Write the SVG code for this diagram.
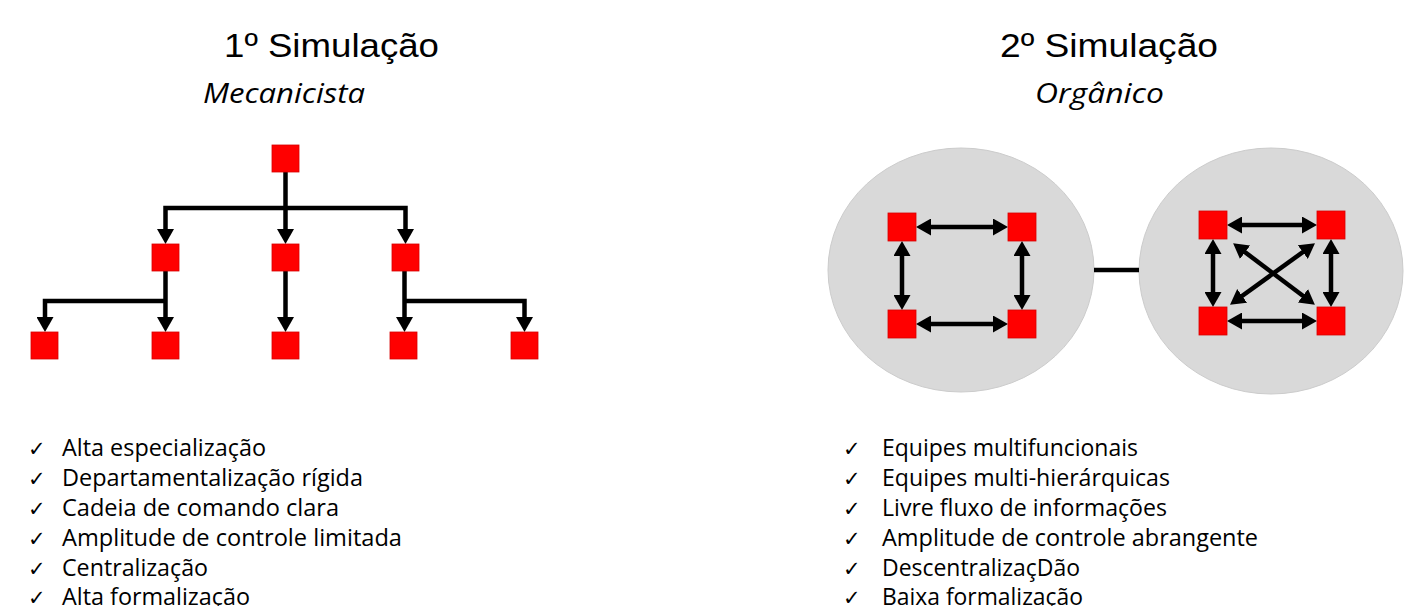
<svg xmlns="http://www.w3.org/2000/svg" width="1414" height="606" viewBox="0 0 1414 606">
  <style>
    .title { font-family: "Liberation Sans", Arial, sans-serif; font-size: 33px; fill: #000; }
    .sub { font-family: "Open Sans", "Noto Sans", sans-serif; font-style: italic; font-size: 27px; fill: #000; }
    .item { font-family: "Open Sans", "Noto Sans", sans-serif; font-size: 23px; fill: #000; }
    .tick { font-family: "DejaVu Sans", sans-serif; font-size: 21px; fill: #000; }
    .box { fill: #FF0000; stroke: #D80000; stroke-width: 0.8; }
    .link { fill: none; stroke: #000; stroke-width: 4.5; stroke-linejoin: miter; }
    .arrow { marker-end: url(#head); }
    .both { marker-start: url(#head); marker-end: url(#head); }
    .cell { fill: #D9D9D9; stroke: #CCCCCC; stroke-width: 1; }
  </style>
  <defs>
    <marker id="head" markerUnits="userSpaceOnUse" viewBox="0 0 15 17" markerWidth="15" markerHeight="17" refX="7" refY="8.5" orient="auto-start-reverse">
      <path d="M0,0 L15,8.5 L0,17 z" fill="#000"/>
    </marker>
  </defs>

  <rect width="1414" height="606" fill="#FFFFFF"/>

  <!-- headings -->
  <g id="heading-left">
    <text class="title" x="224" y="57" textLength="215" lengthAdjust="spacingAndGlyphs">1º Simulação</text>
    <text class="sub" x="203" y="103" textLength="162" lengthAdjust="spacingAndGlyphs">Mecanicista</text>
  </g>
  <g id="heading-right">
    <text class="title" x="1000" y="57" textLength="218" lengthAdjust="spacingAndGlyphs">2º Simulação</text>
    <text class="sub" x="1035" y="103" textLength="129" lengthAdjust="spacingAndGlyphs">Orgânico</text>
  </g>

  <!-- backgrounds for the two organic teams -->
  <g id="team-a">
    <ellipse class="cell" cx="961" cy="270" rx="133" ry="122"/>
  </g>
  <g id="team-b">
    <ellipse class="cell" cx="1271" cy="271" rx="132" ry="123"/>
  </g>

  <!-- connectors -->
  <g id="connectors">
    <!-- mechanistic tree -->
    <path class="link arrow" d="M285.5,172 V236"/>
    <path class="link arrow" d="M285.5,208 H165.5 V236"/>
    <path class="link arrow" d="M285.5,208 H405.5 V236"/>
    <path class="link arrow" d="M165.5,271 V324"/>
    <path class="link arrow" d="M165.5,301 H45 V324"/>
    <path class="link arrow" d="M285.5,271 V324"/>
    <path class="link arrow" d="M404.5,271 V324"/>
    <path class="link arrow" d="M404.5,301 H524.5 V324"/>

    <!-- organic team A -->
    <path class="link both" d="M924,227 H1000"/>
    <path class="link both" d="M924,324 H1000"/>
    <path class="link both" d="M902,249 V302"/>
    <path class="link both" d="M1022,249 V302"/>

    <!-- link between teams -->
    <path class="link" d="M1094,270 H1139" stroke-width="5"/>

    <!-- organic team B -->
    <path class="link both" d="M1235,225 H1309"/>
    <path class="link both" d="M1235,321 H1309"/>
    <path class="link both" d="M1213,247 V299"/>
    <path class="link both" d="M1331,247 V299"/>
    <path class="link both" d="M1239.5,248 L1308.5,300"/>
    <path class="link both" d="M1308.5,248 L1236.5,300"/>
  </g>

  <!-- mechanistic nodes -->
  <g id="m-top"><rect class="box" x="272" y="145" width="27" height="27"/></g>
  <g id="m-mid-1"><rect class="box" x="152" y="244" width="27" height="27"/></g>
  <g id="m-mid-2"><rect class="box" x="272" y="244" width="27" height="27"/></g>
  <g id="m-mid-3"><rect class="box" x="392" y="244" width="27" height="27"/></g>
  <g id="m-low-1"><rect class="box" x="31" y="332" width="27" height="27"/></g>
  <g id="m-low-2"><rect class="box" x="152" y="332" width="27" height="27"/></g>
  <g id="m-low-3"><rect class="box" x="272" y="332" width="27" height="27"/></g>
  <g id="m-low-4"><rect class="box" x="390" y="332" width="27" height="27"/></g>
  <g id="m-low-5"><rect class="box" x="511" y="332" width="27" height="27"/></g>

  <!-- organic nodes -->
  <g id="a-tl"><rect class="box" x="888" y="213" width="28" height="28"/></g>
  <g id="a-tr"><rect class="box" x="1008" y="213" width="28" height="28"/></g>
  <g id="a-bl"><rect class="box" x="888" y="310" width="28" height="28"/></g>
  <g id="a-br"><rect class="box" x="1008" y="310" width="28" height="28"/></g>
  <g id="b-tl"><rect class="box" x="1199" y="211" width="28" height="28"/></g>
  <g id="b-tr"><rect class="box" x="1317" y="211" width="28" height="28"/></g>
  <g id="b-bl"><rect class="box" x="1199" y="307" width="28" height="28"/></g>
  <g id="b-br"><rect class="box" x="1317" y="307" width="28" height="28"/></g>

  <!-- feature lists -->
  <g id="list-left">
    <text class="tick" x="28" y="456">✓</text>
    <text class="tick" x="28" y="486">✓</text>
    <text class="tick" x="28" y="516">✓</text>
    <text class="tick" x="28" y="546">✓</text>
    <text class="tick" x="28" y="576">✓</text>
    <text class="tick" x="28" y="605">✓</text>
    <text class="item" x="62" y="456" textLength="204" lengthAdjust="spacingAndGlyphs">Alta especialização</text>
    <text class="item" x="62" y="486" textLength="301" lengthAdjust="spacingAndGlyphs">Departamentalização rígida</text>
    <text class="item" x="62" y="516" textLength="277" lengthAdjust="spacingAndGlyphs">Cadeia de comando clara</text>
    <text class="item" x="62" y="546" textLength="340" lengthAdjust="spacingAndGlyphs">Amplitude de controle limitada</text>
    <text class="item" x="62" y="576" textLength="146" lengthAdjust="spacingAndGlyphs">Centralização</text>
    <text class="item" x="62" y="605" textLength="188" lengthAdjust="spacingAndGlyphs">Alta formalização</text>
  </g>
  <g id="list-right">
    <text class="tick" x="843" y="456">✓</text>
    <text class="tick" x="843" y="486">✓</text>
    <text class="tick" x="843" y="516">✓</text>
    <text class="tick" x="843" y="546">✓</text>
    <text class="tick" x="843" y="576">✓</text>
    <text class="tick" x="843" y="605">✓</text>
    <text class="item" x="882" y="456" textLength="256" lengthAdjust="spacingAndGlyphs">Equipes multifuncionais</text>
    <text class="item" x="882" y="486" textLength="288" lengthAdjust="spacingAndGlyphs">Equipes multi-hierárquicas</text>
    <text class="item" x="882" y="516" textLength="285" lengthAdjust="spacingAndGlyphs">Livre fluxo de informações</text>
    <text class="item" x="882" y="546" textLength="376" lengthAdjust="spacingAndGlyphs">Amplitude de controle abrangente</text>
    <text class="item" x="882" y="576" textLength="198" lengthAdjust="spacingAndGlyphs">DescentralizaçDão</text>
    <text class="item" x="882" y="605" textLength="201" lengthAdjust="spacingAndGlyphs">Baixa formalização</text>
  </g>
</svg>
